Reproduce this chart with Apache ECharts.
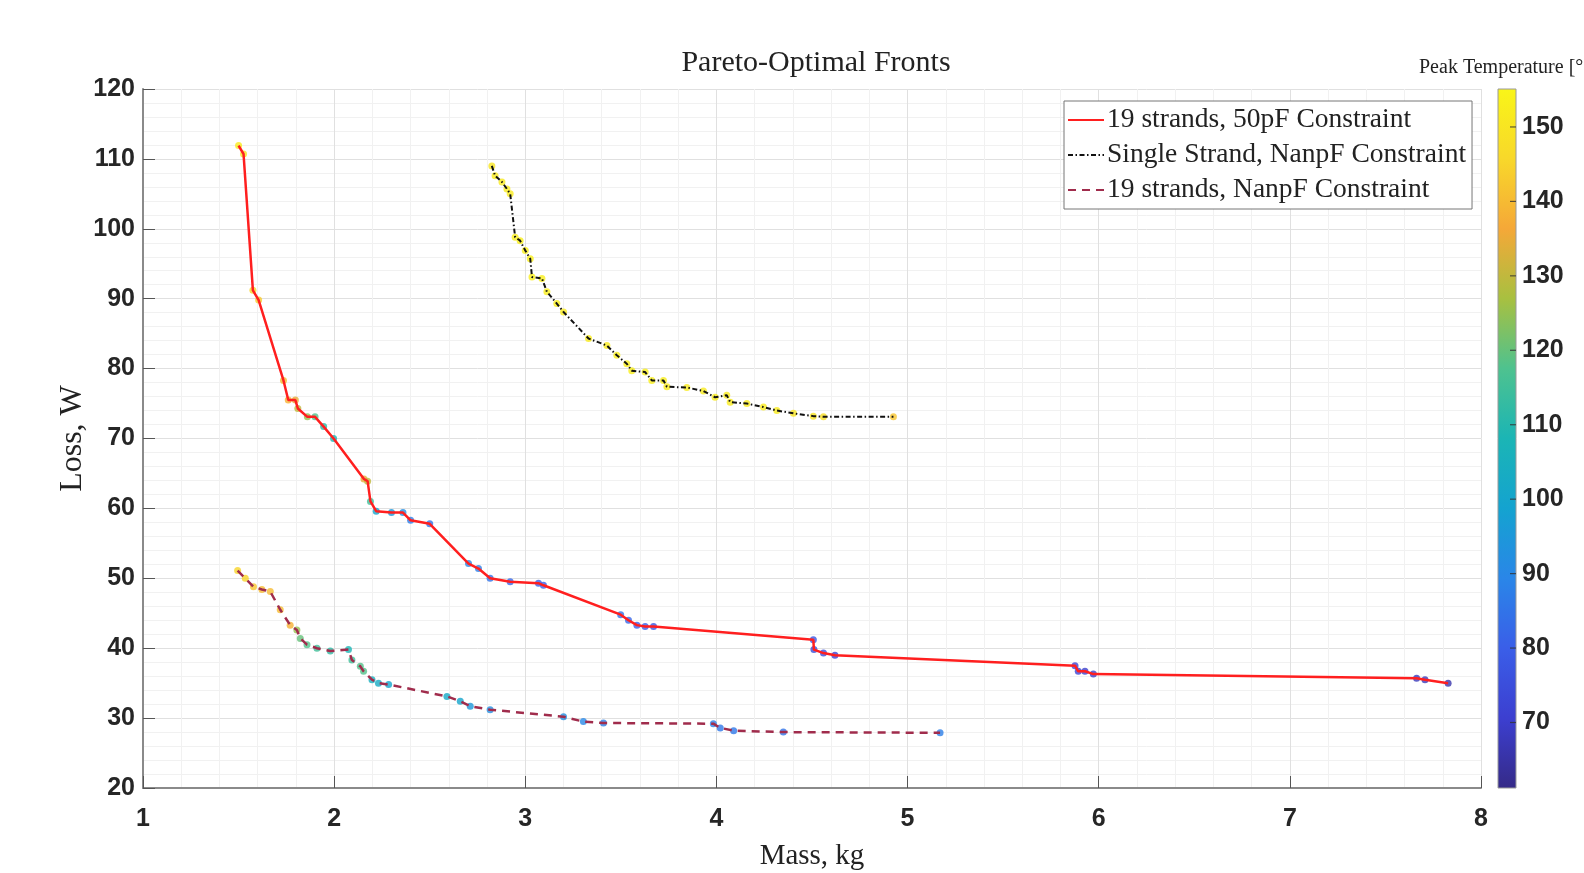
<!DOCTYPE html>
<html>
<head>
<meta charset="utf-8">
<script src="https://cdn.jsdelivr.net/npm/echarts@6/dist/echarts.min.js"></script>
<style>
  html, body { margin: 0; padding: 0; background: #fff; }
  #pareto-chart { width: 1584px; height: 873px; }
</style>
</head>
<body>
<div id="pareto-chart"></div>
<script>
// 19 strands, 50pF constraint
const redMass = [1.50, 1.526, 1.575, 1.605, 1.735, 1.76, 1.797, 1.81, 1.86, 1.90, 1.945, 1.997,
  2.156, 2.175, 2.19, 2.22, 2.30, 2.36, 2.40, 2.50, 2.703, 2.755, 2.816, 2.921, 3.069, 3.095,
  3.499, 3.54, 3.584, 3.627, 3.671, 4.507, 4.51, 4.56, 4.62, 5.876, 5.893, 5.928, 5.972,
  7.663, 7.707, 7.828];
const redLoss = [111.9, 110.7, 91.2, 89.8, 78.3, 75.5, 75.5, 74.3, 73.1, 73.1, 71.7, 70.0,
  64.2, 63.9, 61.0, 59.6, 59.4, 59.4, 58.3, 57.8, 52.1, 51.4, 50.0, 49.5, 49.3, 49.0,
  44.8, 44.0, 43.3, 43.1, 43.1, 41.2, 39.8, 39.3, 39.0, 37.5, 36.7, 36.7, 36.3,
  35.7, 35.5, 35.0];
const redTemp = [152, 150, 145, 143, 140, 138, 135, 130, 125, 118, 112, 108,
  135, 130, 115, 100, 95, 92, 88, 85, 90, 88, 85, 82, 80, 80,
  85, 82, 80, 80, 78, 78, 75, 75, 72, 72, 72, 70, 70,
  68, 68, 66];

// single strand, NanpF constraint
const blackMass = [2.825, 2.842, 2.878, 2.904, 2.921, 2.947, 2.973, 3.0, 3.026, 3.035, 3.087,
  3.113, 3.165, 3.2, 3.331, 3.427, 3.479, 3.531, 3.557, 3.627, 3.662, 3.723, 3.741, 3.845,
  3.932, 3.993, 4.054, 4.072, 4.159, 4.246, 4.316, 4.403, 4.507, 4.56, 4.926];
const blackLoss = [109.0, 107.6, 106.7, 105.7, 105.0, 98.8, 98.3, 96.9, 95.7, 93.1, 92.9,
  91.0, 89.3, 88.1, 84.3, 83.3, 81.9, 80.7, 79.7, 79.5, 78.3, 78.3, 77.4, 77.3,
  76.8, 75.9, 76.2, 75.2, 75.0, 74.5, 74.0, 73.6, 73.2, 73.1, 73.1];
const blackTemp = [150, 152, 152, 152, 152, 153, 153, 153, 153, 153, 153,
  153, 153, 152, 152, 152, 153, 153, 153, 153, 153, 153, 152, 152,
  152, 152, 152, 152, 152, 152, 152, 150, 150, 148, 142];

// 19 strands, NanpF constraint
const maroonMass = [1.495, 1.535, 1.578, 1.622, 1.666, 1.718, 1.77, 1.805, 1.823, 1.858, 1.91,
  1.98, 2.075, 2.093, 2.137, 2.154, 2.198, 2.232, 2.285, 2.59, 2.66, 2.712, 2.816, 3.2,
  3.304, 3.409, 3.984, 4.02, 4.09, 4.35, 5.17];
const maroonLoss = [51.1, 50.0, 48.8, 48.4, 48.1, 45.5, 43.3, 42.6, 41.4, 40.5, 40.0,
  39.6, 39.8, 38.3, 37.4, 36.7, 35.5, 35.0, 34.8, 33.1, 32.4, 31.7, 31.2, 30.2,
  29.5, 29.3, 29.2, 28.6, 28.2, 28.0, 27.9];
const maroonTemp = [145, 145, 142, 140, 140, 140, 138, 125, 120, 118, 115,
  112, 108, 115, 118, 118, 105, 103, 100, 102, 100, 95, 92, 92,
  90, 88, 88, 86, 86, 85, 88];

const seriesNames = [
  '19 strands, 50pF Constraint',
  'Single Strand, NanpF Constraint',
  '19 strands, NanpF Constraint',
];
const colorbarTicks = [70, 80, 90, 100, 110, 120, 130, 140, 150];
const tempMin = 61.2;
const tempMax = 155.1;

const parula = ['#352a87', '#3c3fd0', '#3a5ee8', '#2a86e8', '#14a3d0', '#1bb5b5',
  '#4ec28f', '#a8c040', '#f5a838', '#f8d82a', '#f9f518'];

const serif = '"Liberation Serif", "DejaVu Serif", serif';
const sans = '"Liberation Sans", Arial, sans-serif';

function zipLine(xs, ys) {
  return xs.map((x, i) => [x, ys[i]]);
}
function zipPoints(xs, ys, ts) {
  return xs.map((x, i) => [x, ys[i], ts[i]]);
}

const tickLabel = {
  fontFamily: sans,
  fontWeight: 'bold',
  fontSize: 25,
  color: '#262626',
};

const chart = echarts.init(document.getElementById('pareto-chart'));

chart.setOption({
  animation: false,
  backgroundColor: '#fff',
  title: [
    {
      text: 'Pareto-Optimal Fronts',
      left: 811,
      top: 43,
      textAlign: 'center',
      textStyle: { fontFamily: serif, fontSize: 30, fontWeight: 'normal', color: '#222' },
    },
    {
      text: 'Peak Temperature [°C]',
      left: 1414,
      top: 53,
      textStyle: { fontFamily: serif, fontSize: 20, fontWeight: 'normal', color: '#222' },
    },
  ],
  grid: [
    { left: 143, right: 103, top: 89, bottom: 85, outerBoundsMode: 'none' },
    {
      left: 1498,
      width: 18,
      top: 89,
      bottom: 85,
      outerBoundsMode: 'none',
      show: true,
      borderColor: '#9a9a9a',
      borderWidth: 1,
      backgroundColor: new echarts.graphic.LinearGradient(0, 1, 0, 0,
        parula.map((c, i) => ({ offset: i / (parula.length - 1), color: c }))),
    },
  ],
  legend: {
    data: seriesNames,
    orient: 'vertical',
    left: 1064,
    top: 101,
    itemWidth: 36,
    itemHeight: 14,
    itemGap: 7,
    padding: [5, 6, 5, 3],
    borderColor: '#777',
    borderWidth: 1,
    backgroundColor: '#fff',
    itemStyle: { opacity: 0 },
    textStyle: { fontFamily: serif, fontSize: 27.5, color: '#222', padding: [0, 0, 0, -2] },
  },
  visualMap: {
    type: 'continuous',
    show: false,
    min: tempMin,
    max: tempMax,
    dimension: 2,
    seriesIndex: [3, 4, 5],
    inRange: { color: parula },
  },
  xAxis: [
    {
      type: 'value',
      min: 1,
      max: 8,
      interval: 1,
      name: 'Mass, kg',
      nameLocation: 'middle',
      nameGap: 54,
      nameTextStyle: { fontFamily: serif, fontSize: 29, color: '#222' },
      axisLine: { lineStyle: { color: '#8a8a8a', width: 2 } },
      axisTick: { inside: true, length: 12, lineStyle: { color: '#555' } },
      axisLabel: Object.assign({ margin: 19 }, tickLabel),
      splitLine: { lineStyle: { color: '#e0e0e0' } },
      minorTick: { show: false, splitNumber: 5 },
      minorSplitLine: { show: true, lineStyle: { color: '#f1f1f1' } },
    },
    {
      type: 'value',
      gridIndex: 1,
      min: 0,
      max: 1,
      show: false,
    },
  ],
  yAxis: [
    {
      type: 'value',
      min: 20,
      max: 120,
      interval: 10,
      name: 'Loss, W',
      nameLocation: 'middle',
      nameGap: 54,
      nameMoveOverlap: false,
      nameTextStyle: { fontFamily: serif, fontSize: 32, color: '#222' },
      axisLine: { show: true, lineStyle: { color: '#8a8a8a', width: 2 } },
      axisTick: { show: true, inside: true, length: 12, lineStyle: { color: '#555' } },
      axisLabel: Object.assign({ margin: 8 }, tickLabel),
      splitLine: { lineStyle: { color: '#e0e0e0' } },
      minorTick: { show: false, splitNumber: 5 },
      minorSplitLine: { show: true, lineStyle: { color: '#f1f1f1' } },
    },
    {
      type: 'value',
      gridIndex: 1,
      position: 'right',
      min: tempMin,
      max: tempMax,
      axisLine: { show: false },
      axisTick: { show: false },
      axisLabel: Object.assign({ margin: 6, customValues: colorbarTicks }, tickLabel),
      splitLine: { show: false },
    },
  ],
  series: [
    {
      name: seriesNames[0],
      type: 'line',
      data: zipLine(redMass, redLoss),
      symbol: 'none',
      z: 4,
      color: '#ff1f1f',
      lineStyle: { color: '#ff1f1f', width: 2.5 },
    },
    {
      name: seriesNames[1],
      type: 'line',
      data: zipLine(blackMass, blackLoss),
      symbol: 'none',
      z: 4,
      color: '#111',
      lineStyle: { color: '#111', width: 2, type: [5, 2.5, 1.5, 2.5] },
    },
    {
      name: seriesNames[2],
      type: 'line',
      data: zipLine(maroonMass, maroonLoss),
      symbol: 'none',
      z: 4,
      color: '#a02c4c',
      lineStyle: { color: '#a02c4c', width: 2.5, type: [8, 6] },
    },
    {
      name: 'red-temp',
      type: 'scatter',
      data: zipPoints(redMass, redLoss, redTemp),
      symbolSize: 7,
      z: 2,
    },
    {
      name: 'black-temp',
      type: 'scatter',
      data: zipPoints(blackMass, blackLoss, blackTemp),
      symbolSize: 7,
      z: 2,
    },
    {
      name: 'maroon-temp',
      type: 'scatter',
      data: zipPoints(maroonMass, maroonLoss, maroonTemp),
      symbolSize: 7,
      z: 2,
    },
    {
      // colorbar tick marks on the inner right edge of the bar
      name: 'colorbar-ticks',
      type: 'scatter',
      xAxisIndex: 1,
      yAxisIndex: 1,
      data: colorbarTicks.map((t) => [1, t]),
      symbol: 'rect',
      symbolSize: [6, 1.2],
      symbolOffset: [-3, 0],
      itemStyle: { color: '#333' },
      clip: false,
      silent: true,
      z: 10,
    },
  ],
});
</script>
</body>
</html>
